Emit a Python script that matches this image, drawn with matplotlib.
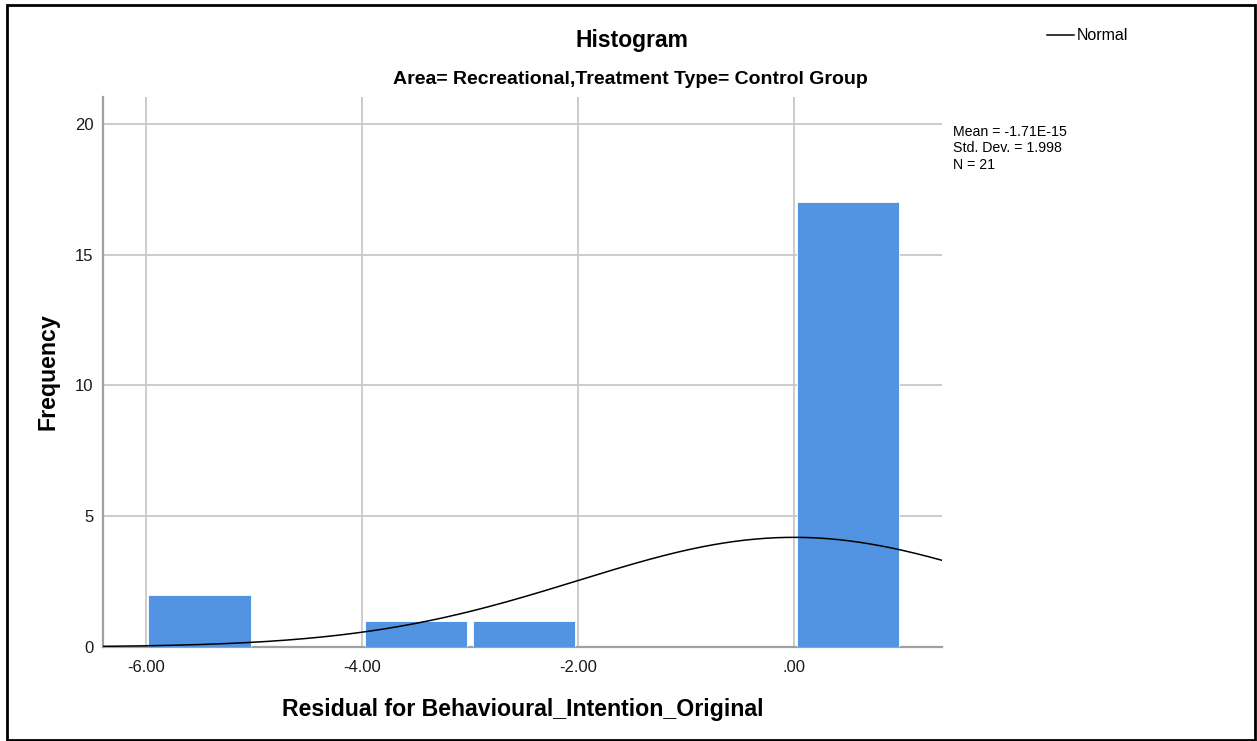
import numpy as np
import matplotlib.pyplot as plt
from matplotlib.patches import Rectangle

plt.rcParams['font.family'] = ['Liberation Sans', 'DejaVu Sans']

# Histogram bins (lower edges) and their counts, bin width 1
bin_left = [-6.0, -5.0, -4.0, -3.0, -2.0, -1.0, 0.0]
counts = [2, 0, 1, 1, 0, 0, 17]
bin_width = 1.0

# Summary statistics of the residuals
mean_val = -1.71e-15
std_val = 1.998
n_val = 21

x_ticks = [-6.0, -4.0, -2.0, 0.0]
x_tick_labels = ['-6.00', '-4.00', '-2.00', '.00']
y_ticks = [0, 5, 10, 15, 20]

W, H = 1257, 741
fig = plt.figure(figsize=(W / 100, H / 100), dpi=100)

ax_l, ax_r, ax_t, ax_b = 103, 942, 97, 647
ax = fig.add_axes([ax_l / W, 1 - ax_b / H, (ax_r - ax_l) / W, (ax_b - ax_t) / H])

# bars leave a small white gap inside each bin
gap = 0.025 * bin_width
bar_color = '#5294e2'
ax.bar(np.asarray(bin_left) + gap, counts, width=bin_width - 2 * gap, align='edge',
       color=bar_color, edgecolor='white', linewidth=0.6, zorder=3)

ax.set_xlim(-6.396, 1.37)
ax.set_ylim(0, 21.03)

xs = np.linspace(-6.396, 1.37, 400)
pdf = n_val * bin_width / (std_val * np.sqrt(2 * np.pi)) * np.exp(-0.5 * ((xs - mean_val) / std_val) ** 2)
ax.plot(xs, pdf, color='black', linewidth=1.1, zorder=4)

grid_c = '#c8c8c8'
ax.set_xticks(x_ticks)
ax.set_xticklabels(x_tick_labels, fontsize=12)
ax.set_yticks(y_ticks)
ax.set_yticklabels([str(v) for v in y_ticks], fontsize=12)
ax.tick_params(length=0, pad=7, colors='#1a1a1a')
ax.tick_params(axis='x', pad=9)
ax.grid(True, color=grid_c, linewidth=1.3, zorder=0)
ax.set_axisbelow(True)
for s in ['top', 'right']:
    ax.spines[s].set_visible(False)
for s in ['left', 'bottom']:
    ax.spines[s].set_color('#a0a0a0')
    ax.spines[s].set_linewidth(1.6)

ax.set_xlabel('Residual for Behavioural_Intention_Original', fontsize=16.7,
              fontweight='bold', labelpad=17)
ax.set_ylabel('Frequency', fontsize=16.7, fontweight='bold', labelpad=11)

fig.text(632 / W, 1 - 40 / H, 'Histogram', fontsize=16.5, fontweight='bold',
         ha='center', va='center')
fig.text(630 / W, 1 - 80 / H, 'Area= Recreational,Treatment Type= Control Group',
         fontsize=14, fontweight='bold', ha='center', va='center')

# legend entry for the fitted curve
fig.add_artist(plt.Line2D([1047 / W, 1074 / W], [1 - 35 / H, 1 - 35 / H],
                          color='black', linewidth=1.1))
fig.text(1077 / W, 1 - 35 / H, 'Normal', fontsize=11.5, ha='left', va='center')

stats_txt = 'Mean = -1.71E-15\nStd. Dev. = {:.3f}\nN = {}'.format(std_val, n_val)
fig.text(953 / W, 1 - 125 / H, stats_txt, fontsize=10.2, ha='left', va='top',
         linespacing=1.22)

# figure frame
fig.add_artist(Rectangle((7 / W, 1 - 740 / H), (1255 - 7) / W, (740 - 5) / H,
                         transform=fig.transFigure, fill=False,
                         edgecolor='black', linewidth=2))

fig.savefig('out.png', dpi=100)
